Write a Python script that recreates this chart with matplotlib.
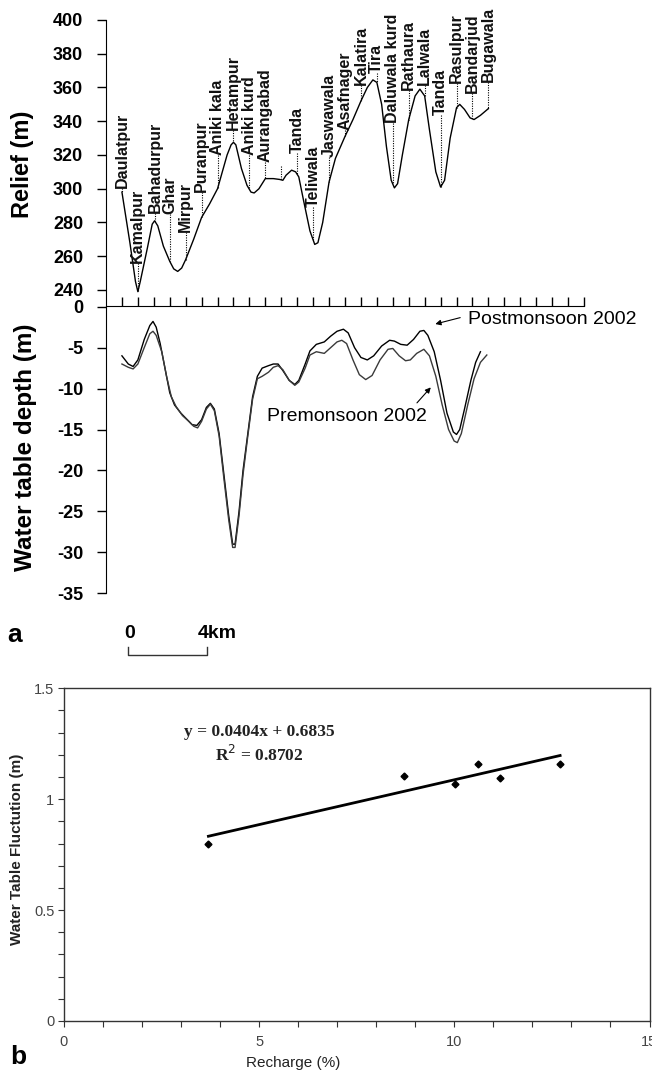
import numpy as np
import matplotlib
matplotlib.use("Agg")
import matplotlib.pyplot as plt
from matplotlib.ticker import MultipleLocator, FixedLocator

plt.rcParams['font.family'] = ['Liberation Sans', 'DejaVu Sans']
plt.rcParams['axes.unicode_minus'] = False

# ---------------- Panel a: relief profile ----------------
relief_u = [1.0, 1.5, 1.85, 2.0, 2.15, 2.6, 2.9, 3.05, 3.25, 3.6, 4.0, 4.25, 4.5, 4.75,
            5.0, 5.5, 6.0, 6.5, 7.0, 7.3, 7.6, 7.85, 8.0, 8.15, 8.5, 8.85, 9.1, 9.3,
            9.6, 10.0, 10.5, 10.9, 11.1, 11.3, 11.65, 11.9, 12.1, 12.4, 12.8, 13.1,
            13.3, 13.6, 14.0, 14.4, 15.0, 15.5, 16.0, 16.4, 16.75, 17.0, 17.3, 17.6,
            17.9, 18.1, 18.3, 18.6, 19.0, 19.4, 19.7, 20.0, 20.3, 20.7, 21.0, 21.25,
            21.6, 22.0, 22.2, 22.5, 22.85, 23.1, 23.5, 24.0]
relief_m = [298, 268, 245, 239, 245, 265, 279, 281, 278, 266, 257, 252.5, 251, 253,
            258, 270, 283, 291, 300, 310, 320, 326, 327.5, 326, 312, 302, 298, 297.5,
            300, 306, 306, 305.5, 305, 308, 311, 310, 307, 293, 275, 267,
            268, 280, 304, 318, 331, 341, 352, 360, 364.5, 363, 350, 325,
            305, 300.5, 303, 320, 341, 355, 359, 355, 335, 310, 301, 305,
            330, 348, 350, 347, 342, 341, 343.5, 347.5]

village_names = ["Daulatpur", "Kamalpur", "Bahadurpur", "Ghar", "Mirpur", "Puranpur",
                 "Aniki kala", "Hetampur", "Aniki kurd", "Aurangabad", "", "Tanda",
                 "Teliwala", "Jaswawala", "Asafnager", "Kalatira", "Tira",
                 "Daluwala kurd", "Rathaura", "Lalwala", "Tanda", "Rasulpur",
                 "Bandarjud", "Bugawala"]
village_u = [1.0, 2.0, 3.07, 4.0, 5.0, 6.0, 7.0, 8.0, 9.0, 10.0, 11.0, 12.0,
             13.0, 14.0, 15.0, 16.0, 17.0, 18.0, 19.0, 20.0, 21.0, 22.0, 23.0, 24.0]
label_base_m = [300.4, 256, 285.5, 285, 274.4, 298, 320, 334.8, 320, 315.9, 313.5, 321.2,
                289.2, 318.8, 334.8, 361.5, 368.6, 339, 358.5, 361.5, 343.7, 362.7,
                356.7, 363.3]

# ---------------- Water table depth ----------------
post_u = [1.0, 1.4, 1.7, 2.0, 2.4, 2.75, 2.95, 3.15, 3.4, 3.7, 4.0, 4.3, 4.7, 5.1, 5.4,
          5.7, 6.0, 6.3, 6.55, 6.8, 7.1, 7.4, 7.7, 7.95, 8.1, 8.35, 8.6, 8.9, 9.2, 9.5,
          9.8, 10.2, 10.5, 10.8, 11.1, 11.5, 11.85, 12.1, 12.5, 12.8, 13.2, 13.7, 14.1,
          14.5, 14.9, 15.2, 15.6, 16.0, 16.4, 16.8, 17.3, 17.8, 18.1, 18.5, 18.9, 19.3,
          19.7, 19.95, 20.2, 20.6, 21.0, 21.4, 21.8, 22.0, 22.2, 22.5, 22.9, 23.2, 23.5]
post_depth = [-6.0, -7.0, -7.3, -6.5, -4.0, -2.3, -1.8, -2.5, -4.5, -7.5, -10.5, -12.0,
              -13.0, -13.8, -14.4, -14.5, -13.8, -12.3, -11.8, -12.5, -15.5, -20.5,
              -25.5, -29.0, -29.0, -25.0, -20.0, -15.5, -11.0, -8.5, -7.5, -7.2, -7.0,
              -7.0, -7.8, -9.0, -9.5, -9.0, -7.0, -5.4, -4.6, -4.3, -3.6, -3.0, -2.75,
              -3.2, -5.0, -6.2, -6.5, -6.0, -4.8, -4.1, -4.2, -4.6, -4.7, -4.0, -3.0,
              -2.9, -3.5, -5.5, -9.0, -13.0, -15.3, -15.6, -15.0, -12.5, -9.0, -6.8, -5.5]

pre_u = [1.0, 1.4, 1.7, 2.0, 2.4, 2.75, 2.95, 3.15, 3.5, 3.8, 4.1, 4.4, 4.8, 5.2, 5.5,
         5.75, 6.0, 6.3, 6.55, 6.8, 7.1, 7.4, 7.7, 7.95, 8.1, 8.35, 8.6, 8.9, 9.2, 9.5,
         9.8, 10.2, 10.5, 10.8, 11.1, 11.5, 11.85, 12.1, 12.5, 12.8, 13.2, 13.7, 14.1,
         14.5, 14.8, 15.1, 15.5, 15.9, 16.3, 16.7, 17.2, 17.7, 18.0, 18.4, 18.8, 19.1,
         19.5, 19.95, 20.3, 20.7, 21.1, 21.5, 21.85, 22.05, 22.3, 22.7, 23.1, 23.5, 23.9]
pre_depth = [-7.0, -7.4, -7.6, -7.0, -5.0, -3.3, -3.0, -3.5, -5.5, -8.5, -11.0, -12.2,
             -13.3, -14.0, -14.6, -14.8, -14.0, -12.5, -11.9, -12.7, -15.8, -21.0,
             -26.0, -29.4, -29.4, -25.5, -20.5, -15.8, -11.3, -8.8, -8.5, -8.0, -7.4,
             -7.2, -7.7, -9.0, -9.6, -9.2, -7.5, -5.9, -5.5, -5.7, -5.0, -4.3, -4.1,
             -4.5, -6.5, -8.3, -8.9, -8.4, -6.5, -5.2, -5.1, -6.0, -6.6, -6.5, -5.7,
             -5.2, -6.0, -8.5, -12.0, -15.0, -16.4, -16.6, -15.5, -12.0, -8.8, -6.8, -5.9]

relief_ticks = [240, 260, 280, 300, 320, 340, 360, 380, 400]
depth_ticks = [0, -5, -10, -15, -20, -25, -30, -35]

# ---------------- Panel b: regression ----------------
recharge = [3.7, 8.71, 10.02, 10.6, 11.17, 12.71]
fluctuation = [0.80, 1.105, 1.068, 1.158, 1.096, 1.158]
slope, intercept, r2 = 0.0404, 0.6835, 0.8702

W, H = 652, 1074
fig = plt.figure(figsize=(W / 100, H / 100), dpi=100)

def fx(px):
    return px / W

def fy(py):
    return 1 - py / H

L, R = 106, 584
# top axes (relief)
ax1 = fig.add_axes([fx(L), fy(306), fx(R - L), (306 - 20) / H])
ax1.plot(relief_u, relief_m, color='black', lw=1.0)
ax1.set_xlim(0, 30)
ax1.set_ylim(230.5, 400)
ax1.spines['top'].set_visible(False)
ax1.spines['right'].set_visible(False)
ax1.yaxis.set_major_locator(FixedLocator(relief_ticks))
ax1.xaxis.set_major_locator(FixedLocator(list(range(1, 31))))
ax1.tick_params(axis='x', direction='in', length=6.5, width=1, labelbottom=False)
ax1.tick_params(axis='y', direction='out', length=6.5, width=1, pad=10, labelsize=13)
for t in ax1.get_yticklabels():
    t.set_fontweight('bold')

leader_end = np.interp(village_u, relief_u, relief_m)
for name, u, base, end in zip(village_names, village_u, label_base_m, leader_end):
    ax1.plot([u, u], [base, end], color='black', lw=0.8, ls=(0, (1, 1.2)))
    if name:
        ax1.text(u, base, name, rotation=90, ha='center', va='bottom', fontsize=11.5,
                 fontweight='bold', color='#111111')

# bottom axes (water table)
ax2 = fig.add_axes([fx(L), fy(593.3), fx(R - L), (593.3 - 306.7) / H])
ax2.plot(post_u, post_depth, color='black', lw=1.0)
ax2.plot(pre_u, pre_depth, color='#3a3a3a', lw=1.0)
ax2.set_xlim(0, 30)
ax2.set_ylim(-35, 0)
for s in ['top', 'right', 'bottom']:
    ax2.spines[s].set_visible(False)
ax2.set_xticks([])
ax2.yaxis.set_major_locator(FixedLocator(depth_ticks))
ax2.tick_params(axis='y', direction='out', length=6.5, width=1, pad=10, labelsize=13)
for t in ax2.get_yticklabels():
    t.set_fontweight('bold')
ax2.patch.set_alpha(0)

ax2.annotate('', xy=(20.5, -2.2), xytext=(22.4, -1.25),
             arrowprops=dict(arrowstyle='-|>', color='black', lw=0.8, mutation_scale=8),
             annotation_clip=False)
ax2.text(22.7, -1.55, 'Postmonsoon 2002', ha='left', va='center', fontsize=14,
         clip_on=False)
ax2.annotate('', xy=(20.5, -9.6), xytext=(19.4, -12.0),
             arrowprops=dict(arrowstyle='-|>', color='black', lw=0.8, mutation_scale=8))
ax2.text(15.15, -13.4, 'Premonsoon 2002', ha='center', va='center', fontsize=14)

fig.text(fx(23), fy(164), 'Relief (m)', rotation=90, ha='center', va='center',
         fontsize=17, fontweight='bold')
fig.text(fx(26), fy(447), 'Water table depth (m)', rotation=90, ha='center',
         va='center', fontsize=17.5, fontweight='bold')

# panel label and scale bar
fig.text(fx(15), fy(635), 'a', ha='center', va='center', fontsize=19, fontweight='bold')
fig.text(fx(130), fy(633), '0', ha='center', va='center', fontsize=14, fontweight='bold')
fig.text(fx(217), fy(633), '4km', ha='center', va='center', fontsize=14,
         fontweight='bold')
fig.add_artist(plt.Line2D([fx(128), fx(128), fx(207), fx(207)],
                          [fy(647), fy(654.5), fy(654.5), fy(647)],
                          color='#333333', lw=1.0))

# ---------------- Panel b ----------------
ax3 = fig.add_axes([fx(64), fy(1021), fx(649.5 - 64), (1021 - 688.3) / H])
xl = np.array([min(recharge), max(recharge)])
ax3.plot(xl, slope * xl + intercept, color='black', lw=2.0)
ax3.plot(recharge, fluctuation, ls='none', marker='D', ms=3.5, color='black')
ax3.set_xlim(0, 15)
ax3.set_ylim(0, 1.5)
ax3.xaxis.set_minor_locator(MultipleLocator(1))
ax3.yaxis.set_minor_locator(MultipleLocator(0.1))
ax3.set_xticks([0, 5, 10, 15])
ax3.set_xticklabels(['0', '5', '10', '15'])
ax3.set_yticks([0, 0.5, 1, 1.5])
ax3.set_yticklabels(['0', '0.5', '1', '1.5'])
for s in ax3.spines.values():
    s.set_color('#333333')
    s.set_linewidth(1.0)
ax3.tick_params(which='both', direction='out', length=4, width=0.8, color='#333333',
                labelsize=10.5, labelcolor='#444444')
ax3.tick_params(axis='x', which='both', pad=6)
ax3.tick_params(axis='y', which='both', pad=3)
ax3.text(5.0, 1.303, 'y = 0.0404x + 0.6835', ha='center', va='center', fontsize=12.5,
         family='Liberation Serif', fontweight='bold', color='#222222')
ax3.text(5.0, 1.198, r'R$^{2}$ = 0.8702', ha='center', va='center', fontsize=12.5,
         family='Liberation Serif', fontweight='bold', color='#222222')

fig.text(fx(17), fy(849), 'Water Table Fluctution (m)', rotation=90, ha='center',
         va='center', fontsize=11, fontweight='bold', color='#222222')
fig.text(fx(293), fy(1063), 'Recharge (%)', ha='center', va='center', fontsize=11,
         color='#222222')
fig.text(fx(18), fy(1057), 'b', ha='center', va='center', fontsize=19, fontweight='bold')

fig.savefig('out.png', dpi=100)
